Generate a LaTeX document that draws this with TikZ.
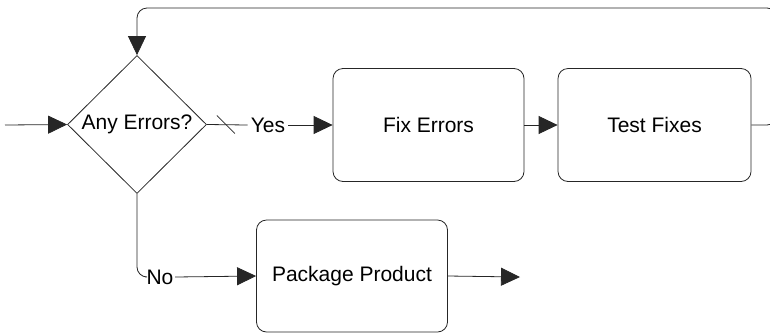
\documentclass[tikz,border=0pt]{standalone}
\usepackage{fontspec}
\setmainfont{Liberation Sans}
\usetikzlibrary{shapes.geometric,arrows.meta,calc}
\begin{document}
\begin{tikzpicture}[x=1pt,y=-1pt,
  every node/.style={font=\fontsize{21pt}{24pt}\selectfont},
  conn/.style={draw=black!85,line width=0.8pt},
  arr/.style={conn,-{Triangle[length=19pt,width=18pt]}},
  procbox/.style={draw=black!85,line width=0.8pt,rounded corners=10pt,minimum width=191pt,minimum height=113pt,inner sep=0pt},
  decision/.style={diamond,draw=black!85,line width=0.8pt,minimum width=139pt,minimum height=138pt,inner sep=0pt},
  lbl/.style={inner sep=3pt}]
\useasboundingbox (0,0) rectangle (770,333);
\node[decision] (d) at (137,124.5) {Any Errors?};
\node[procbox] (fix) at (428.5,125) {Fix Errors};
\node[procbox,minimum width=193pt] (test) at (654.5,125) {Test Fixes};
\node[procbox,minimum height=112pt] (pkg) at (352,276) {Package Product};
\node[lbl] (yes) at (268,125) {Yes};
\node[lbl,inner sep=1.5pt] (no) at (160,277) {No};
\coordinate (in) at (5,125);
\coordinate (out) at (520,277);
\coordinate (fr) at (777,125);
\coordinate (tp) at (777,8);
% input
\draw[arr] (in) -- (d.west);
% yes branch
\draw[conn] (d.east) -- (yes.west);
\draw[conn] ($(d.east)+(10,-9)$) -- ($(d.east)+(28,9)$);
\draw[arr] (yes.east) -- (fix.west);
\draw[arr] (fix.east) -- (test.west);
% feedback loop
\begin{scope}
\clip (0,0) rectangle (770,333);
\draw[arr,rounded corners=10pt] (test.east) -- (fr) -- (tp) -| (d.north);
\end{scope}
% no branch
\draw[conn,rounded corners=10pt] (d.south) |- (no.west);
\draw[arr] (no.east) -- (pkg.west);
\draw[arr] (pkg.east) -- (out);
\end{tikzpicture}
\end{document}
